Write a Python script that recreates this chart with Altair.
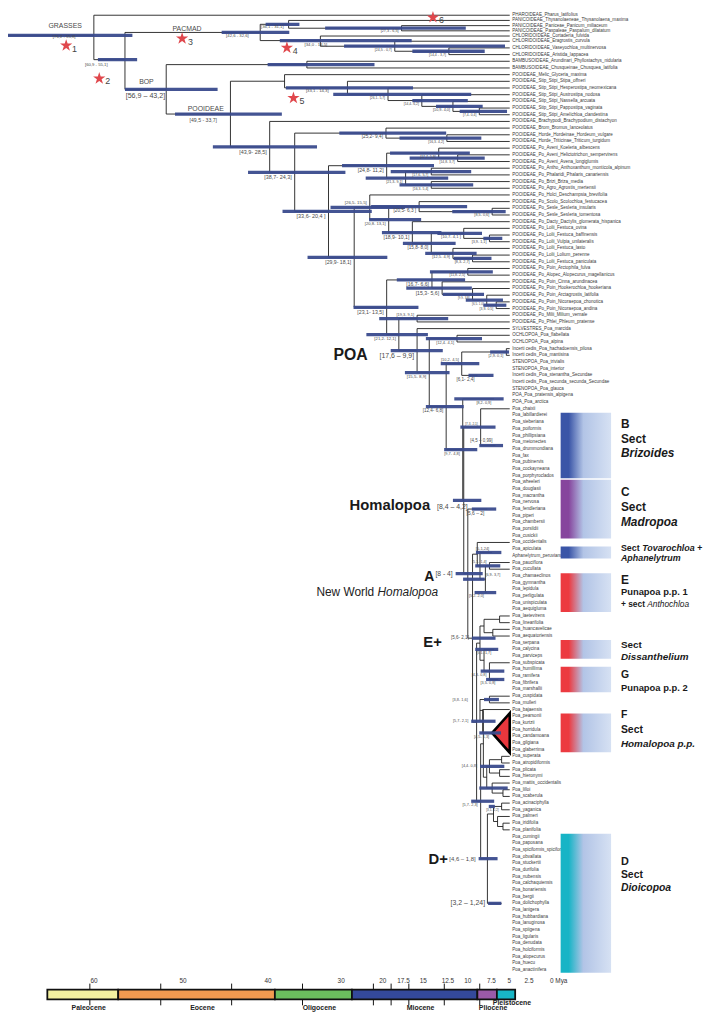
import altair as alt
import pandas as pd

FONT = "Liberation Sans"

# ------------------------------------------------------------------ data
TIP_NAMES = [
    "PHAROIDEAE_Pharus_latifolius",
    "PANICOIDEAE_Thysanolaeneae_Thysanolaena_maxima",
    "PANICOIDEAE_Paniceae_Panicum_miliaceum",
    "PANICOIDEAE_Paspaleae_Paspalum_dilatatum",
    "CHLORIDOIDEAE_Cortaderia_fulvida",
    "CHLORIDOIDEAE_Eragrostis_curvula",
    "CHLORIDOIDEAE_Vaseyochloa_multinervosa",
    "CHLORIDOIDEAE_Aristida_lappacea",
    "BAMBUSOIDEAE_Arundinari_Phyllostachys_nidularia",
    "BAMBUSOIDEAE_Chusqueinae_Chusquea_latifolia",
    "POOIDEAE_Melic_Glyceria_maxima",
    "POOIDEAE_Stip_Stipi_Stipa_offneri",
    "POOIDEAE_Stip_Stipi_Hesperostipa_neomexicana",
    "POOIDEAE_Stip_Stipi_Austrostipa_nodosa",
    "POOIDEAE_Stip_Stipi_Nassella_arcuata",
    "POOIDEAE_Stip_Stipi_Pappostipa_vaginata",
    "POOIDEAE_Stip_Stipi_Amelichloa_clandestina",
    "POOIDEAE_Brachypodi_Brachypodium_distachyon",
    "POOIDEAE_Brom_Bromus_lanceolatus",
    "POOIDEAE_Horde_Hordeinae_Hordeum_vulgare",
    "POOIDEAE_Horde_Triticinae_Triticum_turgidum",
    "POOIDEAE_Po_Aveni_Koeleria_albescens",
    "POOIDEAE_Po_Aveni_Helictotrichon_sempervirens",
    "POOIDEAE_Po_Aveni_Avena_longiglumis",
    "POOIDEAE_Po_Antho_Anthoxanthum_monticola_alpinum",
    "POOIDEAE_Po_Phalaridi_Phalaris_canariensis",
    "POOIDEAE_Po_Brizi_Briza_media",
    "POOIDEAE_Po_Agro_Agrostis_mertensii",
    "POOIDEAE_Po_Holci_Deschampsia_brevifolia",
    "POOIDEAE_Po_Scolo_Scolochloa_festucacea",
    "POOIDEAE_Po_Sesle_Sesleria_insularis",
    "POOIDEAE_Po_Sesle_Sesleria_tomentosa",
    "POOIDEAE_Po_Dacty_Dactylis_glomerata_hispanica",
    "POOIDEAE_Po_Lolii_Festuca_ovina",
    "POOIDEAE_Po_Lolii_Festuca_baffinensis",
    "POOIDEAE_Po_Lolii_Vulpia_unilateralis",
    "POOIDEAE_Po_Lolii_Festuca_lasto",
    "POOIDEAE_Po_Lolii_Lolium_perenne",
    "POOIDEAE_Po_Lolii_Festuca_paniculata",
    "POOIDEAE_Po_Poin_Arctophila_fulva",
    "POOIDEAE_Po_Alopec_Alopecurus_magellanicus",
    "POOIDEAE_Po_Poin_Cinna_arundinacea",
    "POOIDEAE_Po_Poin_Hookerochloa_hookeriana",
    "POOIDEAE_Po_Poin_Arctagrostis_latifolia",
    "POOIDEAE_Po_Poin_Nicoraepoa_chonotica",
    "POOIDEAE_Po_Poin_Nicoraepoa_andina",
    "POOIDEAE_Po_Milii_Milium_vernale",
    "POOIDEAE_Po_Phlei_Phleum_pratense",
    "SYLVESTRES_Poa_marcida",
    "OCHLOPOA_Poa_flabellata",
    "OCHLOPOA_Poa_alpina",
    "Incerti cedis_Poa_hachadoensis_pilosa",
    "Incerti cedis_Poa_mantisina",
    "STENOPOA_Poa_trivialis",
    "STENOPOA_Poa_interior",
    "Incerti cedis_Poa_stenantha_Secundae",
    "Incerti cedis_Poa_secunda_secunda_Secundae",
    "STENOPOA_Poa_glauca",
    "POA_Poa_pratensis_alpigena",
    "POA_Poa_arctica",
    "Poa_chaixii", "Poa_labillardierei", "Poa_sieberiana", "Poa_poiformis", "Poa_phillipsiana",
    "Poa_meionectes", "Poa_drummondiana", "Poa_fax", "Poa_pubinervis", "Poa_cockayneana",
    "Poa_porphyroclados", "Poa_wheeleri", "Poa_douglasii", "Poa_macrantha", "Poa_nervosa",
    "Poa_fendleriana", "Poa_piperi", "Poa_chambersii", "Poa_porsildii", "Poa_cusickii",
    "Poa_occidentalis", "Poa_apiculata", "Aphanelytrum_peruvianum", "Poa_pauciflora", "Poa_cucullata",
    "Poa_chamaeclinos", "Poa_gymnantha", "Poa_lepidula", "Poa_perligulata", "Poa_unispiculata",
    "Poa_aequigluma", "Poa_laetevirens", "Poa_linearifolia", "Poa_huancavelicae", "Poa_aequatoriensis",
    "Poa_serpana", "Poa_calycina", "Poa_parviceps", "Poa_subspicata", "Poa_humillima",
    "Poa_ramifera", "Poa_fibrifera", "Poa_marshallii", "Poa_cuspidata", "Poa_mulleri",
    "Poa_bajaensis", "Poa_pearsonii", "Poa_kurtzii", "Poa_horridula", "Poa_candamoana",
    "Poa_gilgiana", "Poa_glaberrima", "Poa_superata", "Poa_atropidiformis", "Poa_plicata",
    "Poa_hieronymi", "Poa_mattis_occidentalis", "Poa_lilloi", "Poa_scaberula", "Poa_acinaciphylla",
    "Poa_yaganica", "Poa_palmeri", "Poa_iridifolia", "Poa_planifolia", "Poa_cumingii",
    "Poa_paposana", "Poa_spiciformis_spiciformis", "Poa_obvallata", "Poa_stuckertii", "Poa_durifolia",
    "Poa_nubensis", "Poa_calchaquiensis", "Poa_bonariensis", "Poa_bergii", "Poa_dolichophylla",
    "Poa_lanigera", "Poa_hubbardiana", "Poa_lanuginosa", "Poa_spiigena", "Poa_ligularis",
    "Poa_denudata", "Poa_holciformis", "Poa_alopecurus", "Poa_huecu", "Poa_anactinifera",
]
assert len(TIP_NAMES) == 145

EPOCHS = ["Paleocene", "Eocene", "Oligocene", "Miocene", "Pliocene", "Pleistocene"]
EPOCH_START = [66.0, 56.0, 33.9, 23.03, 5.333, 2.58]
EPOCH_END = [56.0, 33.9, 23.03, 5.333, 2.58, 0.0]

AXIS_VALUES = [60, 50, 40, 30, 20, 17.5, 15, 12.5, 10, 7.5, 5, 2.5, 0]
AXIS_TEXT = ["60", "50", "40", "30", "20", "17.5", "15", "12.5", "10", "7.5", "5", "2.5", "0 Mya"]
TICK_AGES = [60, 50, 40, 30, 20, 17.5, 15, 10, 5]

CLADES = ["Stenopoa", "Poa", "Brizoides", "Madropoa", "Tovarochloa", "E",
          "Dissanthelium", "G", "F", "D"]


# ------------------------------------------------------------------ tree
def N(nid, age, kids, bar=None, lab=None, mode="b", fs=4.0, dx=0.0, dy=0.0):
    return {"id": nid, "age": age, "kids": kids, "bar": bar, "lab": lab,
            "mode": mode, "fs": fs, "dx": dx, "dy": dy}


def T(nid, age, first, last, clade, bar=None, lab=None, mode="b", fs=4.0, dx=0.0, dy=0.0):
    n = N(nid, age, [], bar, lab, mode, fs, dx, dy)
    n["tri"] = (first, last)
    n["clade"] = clade
    return n


# PACMAD
panpas = N("panpas", 16.0, [2, 3], (27.3, 6.5), "[27,3 - 6,5]", "b", 3.8)
panic = N("panic", 32.7, [1, panpas], (36.1, 31.1), "[36,1 - 31,1]", "C", 4.3, -16.5, 4.0)
vasar = N("vasar", 9.0, [6, 7], (14.4, 3.7), "[14,4 - 3,7]", "b", 3.6)
erag = N("erag", 17.0, [5, vasar], (24.5, 0.7), "[24,5 - 0,7]", "b", 3.6)
chlor = N("chlor", 28.0, [4, erag], (34.0, 14.5), "[34,0 - 14,5]", "L", 4.3, -16.0, 5.0)
pacmad = N("pacmad", 36.9, [panic, chlor], (42.6, 32.6), "[42,6 - 32,6]", "C", 4.3, -23.0, 4.0)
# BOP
bamb = N("bamb", 30.0, [8, 9], (35.8, 20.0))
st5 = N("st5", 4.5, [15, 16], (7.4, 0.4), "[7,4- 0,4]", "b", 3.4)
st4 = N("st4", 8.4, [14, st5], (10.9, 4.0), "[10,9- 4,0]", "b", 3.8)
st3 = N("st3", 13.0, [13, st4], (14.4, 6.2), "[14,4- 6,2]", "b", 3.4)
st2 = N("st2", 18.0, [12, st3], (26.1, 5.7), "[26,1- 5,7]", "b", 3.4)
stip = N("stip", 24.0, [11, st2], (33.1, 14.3), "[33,1 - 14,3]", "L", 4.3, -42.0, 3.5)
melst = N("melst", 33.3, [10, stip])
trit = N("trit", 9.3, [19, 20], (16.3, 4.2), "[16,3- 4,2]", "b", 3.5)
bt = N("bt", 18.3, [18, trit], (25.2, 9.4), "[25,2- 9,4]", "b", 4.8)
ha = N("ha", 7.7, [22, 23], (14.8, 3.7), "[14,8- 3,7]", "b", 3.4)
aven = N("aven", 10.5, [21, ha], (17.7, 5.9), "[17,7- 5,9]", "b", 3.5)
ap = N("ap", 11.6, [24, 25], (17.6, 5.7), "[17,6- 5,7]", "b", 3.6)
ba = N("ba", 11.6, [26, 27], (16.3, 5.4), "[16,3- 5,4]", "b", 3.5)
n173 = N("n173", 15.4, [ap, ba], (21.3, 9.1), "[21,3- 9,1]", "b", 3.7)
n161 = N("n161", 18.2, [aven, n173], (24.8, 11.2), "[24,8- 11,2]", "b", 5.3)
ses = N("ses", 2.6, [30, 31], (8.5, 0.6), "[8,5- 0,6]", "b", 3.8)
ss = N("ss", 13.4, [29, ses], (20.5, 6.3), "[20,5- 6,3 ]", "b", 4.8)
fbv = N("fbv", 3.0, [34, 35], (3.9, 1.1), "[3,9- 1,1]", "b", 3.8)
fo = N("fo", 6.8, [33, fbv], (10.7, 4.1), "[10,7- 4,1 ]", "b", 4.2)
lfp = N("lfp", 5.5, [37, 38], (8.3, 2.7), "[8,3- 2,7]", "b", 3.8)
flp = N("flp", 8.4, [36, lfp], (12.5, 4.9), "[12,5- 4,9]", "b", 4.0)
lolii = N("lolii", 11.6, [fo, flp], (15.8, 8.0), "[15,8- 8,0]", "b", 4.7)
dl = N("dl", 14.4, [32, lolii], (18.9, 10.1), "[18,9- 10,1]", "b", 5.2)
n215 = N("n215", 17.9, [ss, dl], (20.8, 13.1), "[20,8- 13,1]", "b", 4.2)
n203 = N("n203", 20.7, [28, n215], (26.5, 15.5), "[26,5- 15,5]", "a", 4.4)
aa = N("aa", 6.2, [39, 40], (11.8, 2.5), "[11,8- 2,5]", "b", 3.5)
nic = N("nic", 2.0, [44, 45], (3.9, 0.5), "[3,9- 0,5]", "b", 3.5)
n297 = N("n297", 3.4, [43, nic], (6.5, 1.0), "[6,5- 1,0]", "b", 3.0)
n291 = N("n291", 5.5, [42, n297], (9.9, 3.8), "[9,9- 3,8]", "b", 3.0)
n285 = N("n285", 10.0, [41, n291], (15.3, 5.6), "[15,3- 5,6]", "b", 5.3)
n277 = N("n277", 11.5, [aa, n285], (16.7, 6.6), "[16,7- 6,6]", "b", 5.1)
mp = N("mp", 13.7, [46, 47], (19.3, 9.1), "[19,3- 9,1]", "a", 4.0)
# Poa
hm = N("hm", 0.5, [51, 52], (2.9, 0.1), "[2,9- 0,1]", "b", 3.8)
sten = T("sten", 4.75, 53, 57, "Stenopoa", (6.1, 2.4), "[6,1- 2,4]", "b", 4.7)
n361 = N("n361", 7.1, [hm, sten], (10.2, 4.5), "[10,2- 4,5]", "a", 4.0)
poasect = T("poasect", 2.3, 58, 59, "Poa", (8.2, 0.9), "[8,2- 0,9]", "b", 3.8)
briz = T("briz", 2.1, 61, 70, "Brizoides", (4.5, 0.99), "[4,5 \u2013 0,99]", "a", 4.5)
cb = N("cb", 4.3, [60, briz], (7.3, 2.1), "[7,3- 2,1]", "a", 3.2)
madr = T("madr", 3.3, 71, 79, "Madropoa", (5.6, 2.0), "[5,6 \u2013 2]", "b", 5.0)
tov = T("tov", 2.6, 81, 82, "Tovarochloa", (5.0, 1.24), "[5-1,24]", "a", 4.0)
pc = N("pc", 3.0, [83, 84], (5.1, 1.4), "[5,1- 1,4]", "a", 3.7)
etri = T("etri", 3.4, 85, 90, "E", (5.2, 2.0), "[5,2- 2,0]", "b", 3.8)
g1c = N("g1c", 3.6, [pc, etri], (6.9, 3.7), "[6,9- 3,7]", "L", 3.8, 0.0, -4.0)
g1b = N("g1b", 4.4, [tov, g1c])
g1 = N("g1", 4.8, [80, g1b])
q1 = N("q1", 1.5, [91, 92])
q2 = N("q2", 2.5, [93, 94])
q4 = N("q4", 3.8, [q1, q2])
diss = T("diss", 2.3, 95, 97, "Dissanthelium", (5.1, 1.7), "[5,1- 1,7]", "b", 3.8)
gtri = T("gtri", 1.7, 99, 102, "G", (3.5, 0.8), "[3,5- 0,8]", "b", 3.8)
sg = N("sg", 3.0, [98, gtri], (4.3, 0.8), "[4,3- 0,8]", "b", 3.8)
dg = N("dg", 3.8, [diss, sg])
g2a = N("g2a", 4.4, [q4, dg])
cm = N("cm", 3.0, [103, 104], (3.8, 1.6), "[3,8- 1,6]", "R", 3.9, -22.0, 0.0)
ftri = T("ftri", 2.6, 106, 111, "F", (4.5, 1.3), "[4,5- 1,3]", "b", 3.9)
bf = N("bf", 4.0, [105, ftri], (5.7, 2.1), "[5,7- 2,1]", "l", 3.9)
cmbf = N("cmbf", 4.4, [cm, bf])
p1 = N("p1", 1.2, [112, 113])
p2 = N("p2", 1.5, [114, 115])
t4 = N("t4", 3.0, [p1, p2], (4.4, 0.8), "[4,4- 0,8]", "l", 3.9)
ls_ = N("ls", 1.0, [117, 118])
t3 = N("t3", 2.6, [116, ls_], (4.5, 0.3))
t43 = N("t43", 3.4, [t4, t3])
nx = N("nx", 3.9, [cmbf, t43])
ay = N("ay", 1.2, [119, 120], (3.1, 2.2), "[3,1- 2,2]", "b", 3.2)
ip = N("ip", 1.0, [122, 123])
pip = N("pip", 1.8, [121, ip])
t5 = N("t5", 2.4, [ay, pip])
dtri = T("dtri", 1.2, 124, 144, "D", (3.2, 1.24), "[3,2 \u2013 1,24]", "l", 7.0)
dplus = N("dplus", 3.3, [t5, dtri], (4.6, 1.8), "[4,6 \u2013 1,8]", "l", 6.0)
g2b = N("g2b", 4.3, [nx, dplus], (5.7, 2.3), "[5,7- 2,3]", "b", 3.9)
g2 = N("g2", 4.9, [g2a, g2b])
eplus = N("eplus", 5.5, [g1, g2], (5.6, 2.1), "[5,6- 2,1]", "l", 4.6)
acl = N("A", 6.2, [madr, eplus], (8.0, 4.0), "[8 - 4]", "l", 6.8)
homal = N("homal", 6.8, [cb, acl], (8.4, 4.2), "[8,4 \u2013 4,2]", "C", 7.0, -11.5, 6.5)
n448 = N("n448", 6.95, [poasect, homal], (9.7, 4.8), "[9,7- 4,8]", "b", 4.0)
n405 = N("n405", 9.4, [n361, n448], (12.4, 6.8), "[12,4- 6,8]", "b", 4.6)
ochl = N("ochl", 7.8, [49, 50], (12.4, 4.1), "[12,4- 4,1]", "b", 4.0)
prest = N("prest", 11.9, [ochl, n405], (15.5, 8.9), "[15,5- 8,9]", "b", 4.4)
poa = N("poa", 13.7, [48, prest], (17.6, 9.9), "[17,6 \u2013 9,9]", "b", 7.0)
n330 = N("n330", 16.4, [mp, poa], (21.2, 12.1), "[21,2- 12,1]", "b", 4.3)
n304 = N("n304", 18.2, [n277, n330], (23.1, 13.5), "[23,1- 13,5]", "b", 5.3)
n253 = N("n253", 23.0, [n203, n304], (29.9, 18.1), "[29,9- 18,1]", "b", 5.2)
n207 = N("n207", 26.8, [n161, n253], (33.6, 20.4), "[33,6- 20,4 ]", "b", 5.5)
n298 = N("n298", 31.8, [bt, n207], (38.7, 24.3), "[38,7- 24,3]", "b", 5.5)
n273 = N("n273", 35.5, [17, n298], (43.9, 28.5), "[43,9- 28,5]", "b", 5.5)
pooid = N("pooid", 41.3, [melst, n273], (49.5, 33.7), "[49,5 - 33,7]", "C", 5.2, -27.5, 6.0)
bop = N("bop", 50.8, [bamb, pooid], (56.9, 43.2), "[56,9 \u2013 43,2]", "C", 7.2, -21.0, 6.5)
bep = N("bep", 56.9, [pacmad, bop], (60.9, 55.1), "[60,9 - 55,1]", "C", 4.3, -29.0, 5.5)
root = N("root", 61.5, [0, bep], (76.2, 55.8), "[76,2 - 55,8]", "C", 4.3, -30.0, 2.5)
ROOT_STEM_AGE = 76.0

# annotations attached to nodes: (node, text, size, weight, align, dx px, dy px)
BIG_LABELS = [
    ("root", "GRASSES", 7.0, "normal", "center", -29, -12),
    ("pacmad", "PACMAD", 7.0, "normal", "center", -74, -5),
    ("bop", "BOP", 7.0, "normal", "center", -20, -7),
    ("pooid", "POOIDEAE", 7.0, "normal", "center", -25, -5),
    ("poa", "POA", 16.0, "bold", "right", -50, 4),
    ("homal", "Homalopoa", 15.0, "bold", "right", -34, 5),
    ("A", "A", 14.0, "bold", "right", -34, 3),
    ("eplus", "E+", 15.0, "bold", "right", -31, 4),
    ("dplus", "D+", 15.0, "bold", "right", -40, 0),
]
NW_LABELS = [("A", "New World ", "normal", -94.7, 19), ("A", "Homalopoa", "italic", -30, 19)]
STAR_NODES = ["root", "bep", "pacmad", "pacmad", "melst", "panic"]
STAR_NUMS = ["1", "2", "3", "4", "5", "6"]
STAR_OFFSETS = [(-28, 12), (-26, 19), (-79, 8), (27, 18), (9, 17), (146, -9)]

# section boxes: (clade, text, style, size, dx px, dy px)
BOX_TEXT = [
    ("Brizoides", "B", "b", 12, 0, -22), ("Brizoides", "Sect", "b", 12, 0, -7),
    ("Brizoides", "Brizoides", "bi", 12, 0, 8),
    ("Madropoa", "C", "b", 12, 0, -17), ("Madropoa", "Sect", "b", 12, 0, -2),
    ("Madropoa", "Madropoa", "bi", 12, 0, 13),
    ("Tovarochloa", "Sect ", "b", 9, 0, -5), ("Tovarochloa", "Tovarochloa +", "bi", 9, 21.5, -5),
    ("Tovarochloa", "Aphanelytrum", "bi", 9, 0, 6),
    ("E", "E", "b", 12, 0, -13), ("E", "Punapoa p.p. 1", "b", 9.5, 0, -1),
    ("E", "+ sect", "b", 8.5, 0, 12), ("E", "Anthochloa", "i", 8.5, 26.5, 12),
    ("Dissanthelium", "Sect", "b", 10, 0, -4), ("Dissanthelium", "Dissanthelium", "bi", 10, 0, 8),
    ("G", "G", "b", 10.5, 0, -4), ("G", "Punapoa p.p. 2", "b", 9.5, 0, 9),
    ("F", "F", "b", 10.5, 0, -18), ("F", "Sect", "b", 10.5, 0, -3),
    ("F", "Homalopoa p.p.", "bi", 10, 0, 11),
    ("D", "D", "b", 11, 0, -42), ("D", "Sect", "b", 10.5, 0, -29), ("D", "Dioicopoa", "bi", 10.5, 0, -16),
]

# ------------------------------------------------------------------ layout constants
PX_MY = 6.84          # px per million years (tree)
X_AGE0 = 507.5        # chart x of age 0
ROW_PX = 6.76         # px per tip row
W, H = 704, 1011

X_TREE = alt.Scale(domain=[70, 0], range=[X_AGE0 - 70 * PX_MY, X_AGE0], nice=False, zero=False)
# rows 0-5 slightly compressed so the top row stays inside the page margin
Y_TREE = alt.Scale(domain=[0, 5, 144], range=[1.5, 2 + 5 * ROW_PX - 8, 2 + 144 * ROW_PX - 8],
                   nice=False, zero=False)

# ------------------------------------------------------------------ walk tree
segs, bars, nlabs, tris = [], [], [], []
pos = {}


def shift(a, r, dx, dy):
    return a - dx / PX_MY, r + dy / ROW_PX


def walk(n, pa):
    if isinstance(n, int):
        segs.append({"x": pa, "x2": 0.0, "y": float(n), "y2": float(n)})
        return float(n)
    a = n["age"]
    if "tri" in n:
        f, l = n["tri"]
        r = (f + l) / 2.0
        tris.append({"id": n["id"], "clade": n["clade"], "x": a, "y": r, "y2": r, "ord": 0})
        tris.append({"id": n["id"], "clade": n["clade"], "x": 0.0, "y": f - 0.45, "y2": l + 0.45, "ord": 1})
    else:
        rs = [walk(k, a) for k in n["kids"]]
        r = (rs[0] + rs[-1]) / 2.0
        segs.append({"x": a, "x2": a, "y": rs[0], "y2": rs[-1]})
    segs.append({"x": pa, "x2": a, "y": r, "y2": r})
    pos[n["id"]] = (a, r)
    if n["bar"]:
        bars.append({"hi": n["bar"][0], "lo": n["bar"][1], "y": r})
    if n["lab"]:
        fs, m = n["fs"], n["mode"]
        if m == "b":
            x, y = shift(a, r, -3.0, 2.0 + fs / 2.0); al = "right"
        elif m == "a":
            x, y = shift(a, r, -3.0, -(2.0 + fs / 2.0)); al = "right"
        elif m == "l":
            x, y = shift(n["bar"][0], r, -3.0, 0.0); al = "right"
        else:
            x, y = shift(a, r, n["dx"], n["dy"])
            al = {"C": "center", "L": "left", "R": "right"}[m]
        nlabs.append({"t": n["lab"], "x": x, "y": y, "fs": fs, "al": al})
    return r


walk(root, ROOT_STEM_AGE)

seg_df = pd.DataFrame(segs)
bar_df = pd.DataFrame(bars)
lab_df = pd.DataFrame(nlabs)
tri_df = pd.DataFrame(tris)
tip_df = pd.DataFrame({"name": TIP_NAMES, "row": list(range(len(TIP_NAMES))), "x": 0.0})

XE = lambda f: alt.X(f, scale=X_TREE, axis=None)
YE = lambda f: alt.Y(f, scale=Y_TREE, axis=None)

layers = []

# branches
layers.append(alt.Chart(seg_df).mark_rule(color="#1c1c1c", strokeWidth=0.9).encode(
    x=XE("x:Q"), x2="x2:Q", y=YE("y:Q"), y2="y2:Q"))

# collapsed clades
CLADE_COLORS = ["#000000", "#000000", "#3a55a7", "#86459d", "#3a55a7", "#e9373d",
                "#e9373d", "#e9373d", "#e9373d", "#17b4c6"]
layers.append(alt.Chart(tri_df).mark_area(orient="vertical", opacity=1).encode(
    x=XE("x:Q"), y=YE("y:Q"), y2="y2:Q", detail="id:N", order="ord:Q",
    color=alt.Color("clade:N", scale=alt.Scale(domain=CLADES, range=CLADE_COLORS), legend=None)))
layers.append(alt.Chart(tri_df).transform_filter(alt.datum.clade == "F").mark_area(
    orient="vertical", color="#e9373d", stroke="#000000", strokeWidth=2.6, strokeJoin="miter").encode(
    x=XE("x:Q"), y=YE("y:Q"), y2="y2:Q", detail="id:N"))

# HPD bars
layers.append(alt.Chart(bar_df).mark_rule(color="#3a4b8d", strokeWidth=3.3, opacity=0.95).encode(
    x=XE("hi:Q"), x2="lo:Q", y=YE("y:Q")))

# node labels
for al in ["right", "left", "center"]:
    sub = lab_df[lab_df.al == al]
    if len(sub):
        layers.append(alt.Chart(sub).mark_text(align=al, baseline="middle", font=FONT, color="#4a4a4a").encode(
            x=XE("x:Q"), y=YE("y:Q"), text="t:N", size=alt.Size("fs:Q", scale=None)))

# tip labels
layers.append(alt.Chart(tip_df).mark_text(align="left", baseline="middle", dx=2.5, fontSize=4.6,
                                          font=FONT, color="#3a3a3a").encode(
    x=XE("x:Q"), y=YE("row:Q"), text="name:N"))

# big labels
big_rows = []
for nid, txt, fs, wt, al, dx, dy in BIG_LABELS:
    a, r = pos[nid]
    x, y = shift(a, r, dx, dy)
    big_rows.append({"t": txt, "x": x, "y": y, "fs": fs, "wt": wt, "al": al})
big_df = pd.DataFrame(big_rows)
for wt, al, col in [("normal", "center", "#4a4a4a"), ("bold", "right", "#1a1a1a")]:
    sub = big_df[(big_df.wt == wt) & (big_df.al == al)]
    layers.append(alt.Chart(sub).mark_text(align=al, baseline="middle", font=FONT, fontWeight=wt, color=col).encode(
        x=XE("x:Q"), y=YE("y:Q"), text="t:N", size=alt.Size("fs:Q", scale=None)))
for nid, txt, st, dx, dy in NW_LABELS:
    a, r = pos[nid]
    x, y = shift(a, r, dx, dy)
    layers.append(alt.Chart(pd.DataFrame({"t": [txt], "x": [x], "y": [y]})).mark_text(
        align="right", baseline="middle", font=FONT, fontStyle=st, fontSize=12, color="#222").encode(
        x=XE("x:Q"), y=YE("y:Q"), text="t:N"))

# stars
STAR = ("M0,-1L0.2245,-0.309L0.951,-0.309L0.363,0.118L0.588,0.809L0,0.382L-0.588,0.809"
        "L-0.363,0.118L-0.951,-0.309L-0.2245,-0.309Z")
star_rows = []
for nid, num, (dx, dy) in zip(STAR_NODES, STAR_NUMS, STAR_OFFSETS):
    a, r = pos[nid]
    x, y = shift(a, r, dx, dy)
    star_rows.append({"num": num, "x": x, "y": y})
star_df = pd.DataFrame(star_rows)
layers.append(alt.Chart(star_df).mark_point(shape=STAR, filled=True, size=170, color="#e0474c",
                                            strokeWidth=0, opacity=1).encode(x=XE("x:Q"), y=YE("y:Q")))
layers.append(alt.Chart(star_df).mark_text(align="left", baseline="middle", dx=6, dy=3, fontSize=9,
                                           font=FONT, color="#444").encode(
    x=XE("x:Q"), y=YE("y:Q"), text="num:N"))

# section boxes with gradient
ranges = {n["clade"]: n["tri"] for n in [briz, madr, tov, etri, diss, gtri, ftri, dtri]}
box_df = pd.DataFrame([{"clade": c, "y": ranges[c][0] - 0.4, "y2": ranges[c][1] + 0.4} for c in ranges])


def grad(c, k=0.16):
    return {"gradient": "linear", "x1": 0, "y1": 0, "x2": 1, "y2": 0,
            "stops": [{"offset": 0, "color": c}, {"offset": k, "color": c},
                      {"offset": 0.45, "color": "#b2c4e6"}, {"offset": 1, "color": "#d6e1f3"}]}


for group, col in [(["Brizoides", "Tovarochloa"], "#3a55a7"), (["Madropoa"], "#86459d"),
                   (["E", "Dissanthelium", "G", "F"], "#ec3a40"), (["D"], "#17b4c6")]:
    sub = box_df[box_df.clade.isin(group)]
    layers.append(alt.Chart(sub).mark_rect(color=grad(col)).encode(
        x=alt.value(559), x2=alt.value(610), y=YE("y:Q"), y2="y2:Q"))

box_mid = {c: (ranges[c][0] + ranges[c][1]) / 2.0 for c in ranges}
bt_rows = []
for c, txt, st, fs, dx, dy in BOX_TEXT:
    bt_rows.append({"t": txt, "st": st, "fs": fs, "px": 620 + dx, "y": box_mid[c] + dy / ROW_PX})
bt_df = pd.DataFrame(bt_rows)
for st, wt, fst in [("b", "bold", "normal"), ("bi", "bold", "italic"), ("i", "normal", "italic")]:
    sub = bt_df[bt_df.st == st]
    layers.append(alt.Chart(sub).mark_text(align="left", baseline="middle", font=FONT, fontWeight=wt,
                                           fontStyle=fst, color="#1a1a1a").encode(
        x=alt.X("px:Q", scale=None, axis=None), y=YE("y:Q"), text="t:N",
        size=alt.Size("fs:Q", scale=None)))

# ------------------------------------------------------------------ timeline
EPOCH_SCALE = alt.Scale(domain=[66, 0], range=[513 - 7.17 * 66, 513], nice=False, zero=False)
EPOCH_COLORS = ["#f3f0a0", "#f29a50", "#6bbd5e", "#34499b", "#9b5aa8", "#18b6c6"]
ep_df = pd.DataFrame({"epoch": EPOCHS, "start": EPOCH_START, "end": EPOCH_END})
ep_df["mid"] = (ep_df.start + ep_df.end) / 2.0
layers.append(alt.Chart(ep_df).mark_rect(stroke="#111", strokeWidth=1.8).encode(
    x=alt.X("start:Q", scale=EPOCH_SCALE, axis=None), x2="end:Q",
    y=alt.value(987), y2=alt.value(997),
    color=alt.Color("epoch:N", scale=alt.Scale(domain=EPOCHS, range=EPOCH_COLORS), legend=None)))
tick_df = pd.DataFrame({"age": TICK_AGES})
for y0, y1 in [(981, 987), (997, 1003)]:
    layers.append(alt.Chart(tick_df).mark_rule(color="#111", strokeWidth=1).encode(
        x=alt.X("age:Q", scale=EPOCH_SCALE, axis=None), y=alt.value(y0), y2=alt.value(y1)))
layers.append(alt.Chart(ep_df).transform_filter(alt.datum.epoch != "Pleistocene").mark_text(
    baseline="middle", fontSize=7, fontWeight="bold", font=FONT, color="#222", dx=6).encode(
    x=alt.X("mid:Q", scale=EPOCH_SCALE, axis=None), y=alt.value(1006), text="epoch:N"))
layers.append(alt.Chart(ep_df).transform_filter(alt.datum.epoch == "Pleistocene").mark_text(
    baseline="middle", fontSize=7, fontWeight="bold", font=FONT, color="#222", dx=6).encode(
    x=alt.X("mid:Q", scale=EPOCH_SCALE, axis=None), y=alt.value(1001), text="epoch:N"))

LABEL_SCALE = alt.Scale(domain=AXIS_VALUES,
                        range=[87, 177, 263, 337, 379, 400, 420, 445, 465, 489, 507, 527, 557],
                        nice=False, zero=False)
ax_df = pd.DataFrame({"v": AXIS_VALUES, "t": AXIS_TEXT})
layers.append(alt.Chart(ax_df).mark_text(baseline="middle", fontSize=6.5, font=FONT, color="#333").encode(
    x=alt.X("v:Q", scale=LABEL_SCALE, axis=None), y=alt.value(978), text="t:N"))

chart = alt.layer(*layers).properties(
    width=W, height=H, padding=0, autosize=alt.AutoSizeParams(type="none"), background="white"
).resolve_scale(x="independent", y="independent", color="independent", size="independent"
).configure_view(stroke=None)

chart.save("out.html", embed_options={"renderer": "svg", "actions": False})
